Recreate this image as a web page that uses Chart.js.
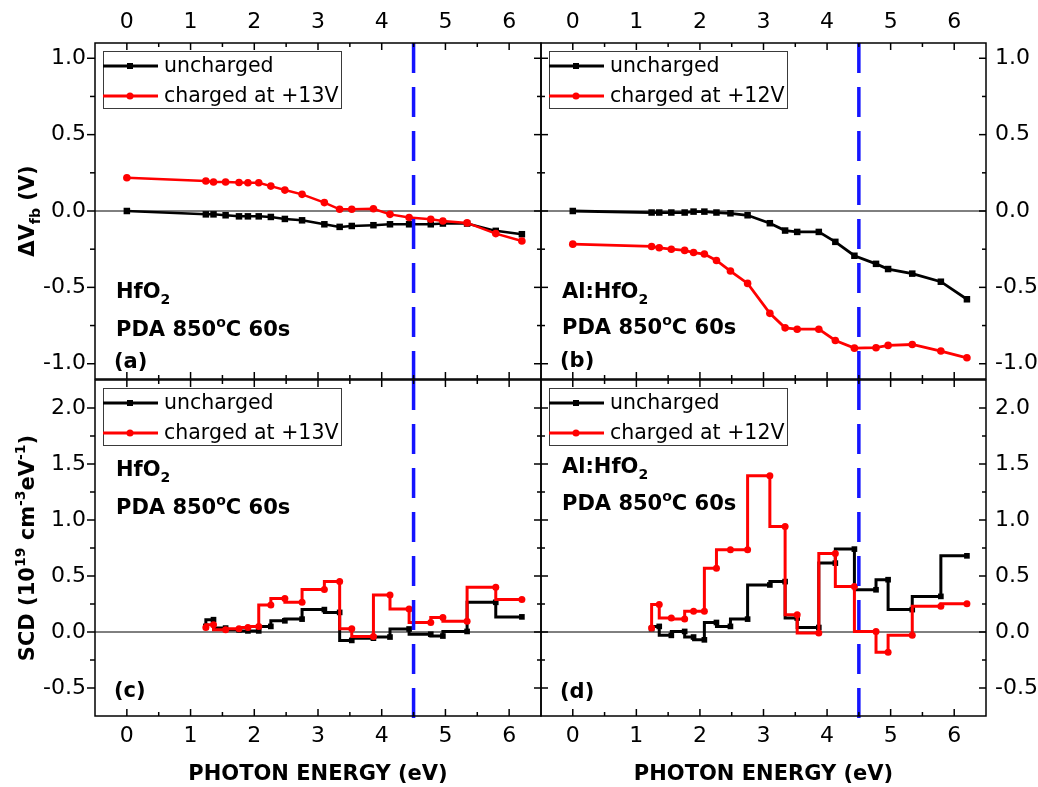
<!DOCTYPE html>
<html>
<head>
<meta charset="utf-8">
<script src="https://cdn.jsdelivr.net/npm/chart.js@4.4.1/dist/chart.umd.min.js"></script>
<style>
html,body{margin:0;padding:0;background:#fff;}
#wrap{position:relative;width:1038px;height:787px;overflow:hidden;background:#fff;}
#wrap canvas{position:absolute;left:0;top:0;}
</style>
</head>
<body>
<div id="wrap">
<canvas id="pa" width="1038" height="787"></canvas>
<canvas id="pb" width="1038" height="787"></canvas>
<canvas id="pc" width="1038" height="787"></canvas>
<canvas id="pd" width="1038" height="787"></canvas>
</div>
<script>
// ---------------- data ----------------
const energy = [0, 1.24, 1.36, 1.55, 1.76, 1.9, 2.07, 2.26, 2.48, 2.75, 3.1, 3.34, 3.53, 3.87, 4.13, 4.43, 4.77, 4.96, 5.34, 5.79, 6.2];
const energySCD = [1.24, 1.36, 1.55, 1.76, 1.9, 2.07, 2.26, 2.48, 2.75, 3.1, 3.34, 3.53, 3.87, 4.13, 4.43, 4.77, 4.96, 5.34, 5.79, 6.2];

const dVfbHfO2Uncharged = [0, -0.022, -0.022, -0.028, -0.035, -0.035, -0.035, -0.039, -0.052, -0.061, -0.087, -0.104, -0.098, -0.093, -0.087, -0.087, -0.087, -0.082, -0.082, -0.13, -0.152];
const dVfbHfO2Charged = [0.218, 0.196, 0.19, 0.19, 0.187, 0.185, 0.185, 0.163, 0.137, 0.109, 0.055, 0.011, 0.011, 0.015, -0.022, -0.043, -0.054, -0.065, -0.078, -0.148, -0.196];
const dVfbAlHfO2Uncharged = [0, -0.01, -0.01, -0.01, -0.01, -0.004, -0.004, -0.01, -0.015, -0.028, -0.08, -0.128, -0.137, -0.137, -0.202, -0.293, -0.346, -0.38, -0.41, -0.463, -0.578];
const dVfbAlHfO2Charged = [-0.217, -0.232, -0.241, -0.25, -0.258, -0.272, -0.282, -0.324, -0.393, -0.474, -0.67, -0.765, -0.774, -0.774, -0.848, -0.898, -0.895, -0.88, -0.874, -0.917, -0.961];

const scdHfO2Uncharged = [0.05, 0.11, 0.035, 0.02, 0.01, 0.01, 0.05, 0.10, 0.115, 0.2, 0.175, -0.075, -0.055, -0.045, 0.027, -0.02, -0.036, 0.005, 0.265, 0.135];
const scdHfO2Charged = [0.04, 0.065, 0.02, 0.03, 0.04, 0.05, 0.24, 0.30, 0.265, 0.38, 0.45, 0.03, -0.04, 0.33, 0.205, 0.085, 0.13, 0.095, 0.40, 0.29];
const scdAlHfO2Uncharged = [0.03, 0.05, -0.03, 0.005, -0.045, -0.07, 0.085, 0.05, 0.115, 0.42, 0.45, 0.125, 0.04, 0.615, 0.74, 0.377, 0.467, 0.2, 0.318, 0.68];
const scdAlHfO2Charged = [0.035, 0.245, 0.125, 0.115, 0.185, 0.185, 0.57, 0.735, 0.735, 1.395, 0.943, 0.155, -0.01, 0.70, 0.407, 0.005, -0.18, -0.03, 0.23, 0.253];

const refEnergy = 4.5;

const xTickLabels = [0, 1, 2, 3, 4, 5, 6];
const xMinorTicks = [0.5, 1.5, 2.5, 3.5, 4.5, 5.5];
const yTicksVfb = [-1.0, -0.5, 0.0, 0.5, 1.0];
const yMinorVfb = [-0.75, -0.25, 0.25, 0.75];
const yTicksSCD = [-0.5, 0.0, 0.5, 1.0, 1.5, 2.0];
const yMinorSCD = [-0.25, 0.25, 0.75, 1.25, 1.75];

const xRange = [-0.5, 6.5];
const yRangeVfb = [-1.1, 1.1];
const yRangeSCD = [-0.75, 2.25];

// ---------------- helpers ----------------
const FAM = "'DejaVu Sans', sans-serif";
const W = 1038, H = 787;

function drawRich(ctx, x, y, parts, size, weight, align) {
  const fontFor = p => `${weight} ${(p.sub || p.sup) ? Math.round(size * 0.66) : size}px ${FAM}`;
  let total = 0;
  parts.forEach(p => { ctx.font = fontFor(p); p.w = ctx.measureText(p.t).width; total += p.w; });
  let cx = align === 'center' ? x - total / 2 : x;
  ctx.textAlign = 'left';
  ctx.textBaseline = 'alphabetic';
  parts.forEach(p => {
    ctx.font = fontFor(p);
    const dy = p.sub ? size * 0.3 : (p.sup ? -size * 0.42 : 0);
    ctx.fillText(p.t, cx, y + dy);
    cx += p.w;
  });
}

function line(ctx, x1, y1, x2, y2) {
  ctx.beginPath(); ctx.moveTo(x1, y1); ctx.lineTo(x2, y2); ctx.stroke();
}

function makePanel(id, spec) {
  const A = spec.area;
  const xPos = spec.row === 'top' ? 'top' : 'bottom';
  const yPos = spec.col === 'left' ? 'left' : 'right';
  const xAxisSize = xPos === 'top' ? A.t : H - A.b;
  const yAxisSize = yPos === 'left' ? A.l : W - A.r;
  const padding = {
    left: yPos === 'left' ? 0 : A.l,
    right: yPos === 'right' ? 0 : W - A.r,
    top: xPos === 'top' ? 0 : A.t,
    bottom: xPos === 'bottom' ? 0 : H - A.b
  };
  const step = spec.stepped ? 'after' : false;

  const deco = {
    id: 'deco' + id,
    beforeDatasetsDraw(chart) {
      const { ctx, chartArea: ca, scales: { y } } = chart;
      ctx.save();
      ctx.strokeStyle = '#000';
      ctx.lineWidth = 1;
      const y0 = y.getPixelForValue(0);
      line(ctx, ca.left, y0, ca.right, y0);
      ctx.restore();
    },
    afterDatasetsDraw(chart) {
      const { ctx, chartArea: ca, scales: { x, y } } = chart;
      ctx.save();
      // reference dashed line
      const xr = x.getPixelForValue(refEnergy);
      ctx.strokeStyle = '#1414ff';
      ctx.lineWidth = 3.5;
      ctx.setLineDash([30, 14]);
      line(ctx, xr, ca.top, xr, ca.bottom + (spec.row === 'bottom' ? 9 : 0));
      ctx.setLineDash([]);

      // frame
      ctx.strokeStyle = '#000';
      ctx.lineWidth = 1.5;
      ctx.strokeRect(ca.left, ca.top, ca.right - ca.left, ca.bottom - ca.top);

      // x ticks (inward, top & bottom)
      xTickLabels.forEach(v => {
        const px = x.getPixelForValue(v);
        line(ctx, px, ca.top, px, ca.top + 7);
        line(ctx, px, ca.bottom, px, ca.bottom - 7);
      });
      xMinorTicks.forEach(v => {
        const px = x.getPixelForValue(v);
        line(ctx, px, ca.top, px, ca.top + 4);
        line(ctx, px, ca.bottom, px, ca.bottom - 4);
      });
      // y ticks
      const drawY = (vals, len, outLen) => vals.forEach(v => {
        const py = y.getPixelForValue(v);
        if (spec.col === 'left') {
          line(ctx, ca.left - outLen, py, ca.left, py);
        } else {
          line(ctx, ca.left, py, ca.left + len, py);
        }
        line(ctx, ca.right - len, py, ca.right, py);
      });
      drawY(spec.yMajor, 7, 8);
      drawY(spec.yMinor, 4, 5);

      // legend
      const bx = ca.left + 8, by = ca.top + 8, bw = 238, bh = 57;
      ctx.strokeStyle = '#3a3a3a';
      ctx.lineWidth = 1;
      ctx.strokeRect(Math.round(bx) + 0.5, Math.round(by) + 0.5, bw, bh);
      const items = [
        { label: 'uncharged', color: '#000', shape: 'rect' },
        { label: spec.redLabel, color: '#ff0000', shape: 'circle' }
      ];
      items.forEach((it, i) => {
        const cy = by + 15 + i * 30;
        ctx.strokeStyle = it.color;
        ctx.fillStyle = it.color;
        ctx.lineWidth = 3;
        line(ctx, bx, cy, bx + 55, cy);
        if (it.shape === 'rect') {
          ctx.fillRect(bx + 27 - 3, cy - 3, 6, 6);
        } else {
          ctx.beginPath(); ctx.arc(bx + 27, cy, 3.5, 0, Math.PI * 2); ctx.fill();
        }
        ctx.fillStyle = '#000';
        ctx.font = `20.5px ${FAM}`;
        ctx.textAlign = 'left';
        ctx.textBaseline = 'middle';
        ctx.fillText(it.label, bx + 61, cy + 1);
      });

      // annotations
      ctx.fillStyle = '#000';
      const ax = ca.left + 21;
      drawRich(ctx, ax, spec.ann[0] + 8, spec.material, 21, 'bold', 'left');
      drawRich(ctx, ax, spec.ann[1] + 8, [{ t: 'PDA 850' }, { t: 'o', sup: true }, { t: 'C 60s' }], 21, 'bold', 'left');
      drawRich(ctx, ca.left + 19, spec.ann[2] + 7, [{ t: spec.letter }], 21, 'bold', 'left');

      // y title
      if (spec.yTitle) {
        ctx.save();
        ctx.translate(26, (ca.top + ca.bottom) / 2);
        ctx.rotate(-Math.PI / 2);
        drawRich(ctx, 0, 7.5, spec.yTitle, 21, 'bold', 'center');
        ctx.restore();
      }
      ctx.restore();
    }
  };

  return new Chart(document.getElementById(id), {
    type: 'line',
    data: {
      datasets: [
        {
          label: 'uncharged',
          data: spec.xs.map((xv, i) => ({ x: xv, y: spec.black[i] })),
          borderColor: '#000', backgroundColor: '#000',
          pointStyle: 'rect', pointRadius: spec.sq, pointBorderWidth: 0,
          borderWidth: spec.lw, stepped: step, tension: 0, order: 1
        },
        {
          label: spec.redLabel,
          data: spec.xs.map((xv, i) => ({ x: xv, y: spec.red[i] })),
          borderColor: '#ff0000', backgroundColor: '#ff0000',
          pointStyle: 'circle', pointRadius: spec.ci, pointBorderWidth: 0,
          borderWidth: spec.lw, stepped: step, tension: 0, order: 0
        }
      ]
    },
    options: {
      responsive: false,
      animation: false,
      devicePixelRatio: 1,
      layout: { padding, autoPadding: false },
      plugins: { legend: { display: false }, tooltip: { enabled: false } },
      scales: {
        x: {
          type: 'linear', position: xPos, min: xRange[0], max: xRange[1],
          afterBuildTicks: s => { s.ticks = xTickLabels.map(v => ({ value: v })); },
          afterFit: s => { s.height = xAxisSize; },
          grid: { display: false, drawTicks: false },
          border: { display: false },
          ticks: {
            font: { family: FAM, size: 22 }, color: '#000',
            padding: xPos === 'top' ? 8 : 7, maxRotation: 0, autoSkip: false,
            callback: v => String(v)
          },
          title: xPos === 'bottom'
            ? { display: true, text: 'PHOTON ENERGY (eV)', color: '#000', font: { family: FAM, size: 21, weight: 'bold' }, padding: { top: 0, bottom: 0 } }
            : { display: false }
        },
        y: {
          type: 'linear', position: yPos, min: spec.yRange[0], max: spec.yRange[1],
          afterBuildTicks: s => { s.ticks = spec.yMajor.map(v => ({ value: v })); },
          afterFit: s => { s.width = yAxisSize; },
          grid: { display: false, drawTicks: false },
          border: { display: false },
          ticks: {
            font: { family: FAM, size: 22 }, color: '#000', padding: 9,
            callback: v => Number(v).toFixed(1)
          }
        }
      }
    },
    plugins: [deco]
  });
}

const vfbTitle = [{ t: '\u0394V' }, { t: 'fb', sub: true }, { t: ' (V)' }];
const scdTitle = [{ t: 'SCD (10' }, { t: '19', sup: true }, { t: ' cm' }, { t: '-3', sup: true }, { t: 'eV' }, { t: '-1', sup: true }, { t: ')' }];
const hfo2 = [{ t: 'HfO' }, { t: '2', sub: true }];
const alhfo2 = [{ t: 'Al:HfO' }, { t: '2', sub: true }];

makePanel('pa', {
  area: { l: 95, t: 43, r: 541, b: 379 }, row: 'top', col: 'left',
  yRange: yRangeVfb, yMajor: yTicksVfb, yMinor: yMinorVfb,
  xs: energy, black: dVfbHfO2Uncharged, red: dVfbHfO2Charged, stepped: false,
  redLabel: 'charged at +13V', material: hfo2, letter: '(a)', ann: [290, 328, 361],
  yTitle: vfbTitle, lw: 2.5, sq: 4.6, ci: 3.8
});
makePanel('pb', {
  area: { l: 541, t: 43, r: 986, b: 379 }, row: 'top', col: 'right',
  yRange: yRangeVfb, yMajor: yTicksVfb, yMinor: yMinorVfb,
  xs: energy, black: dVfbAlHfO2Uncharged, red: dVfbAlHfO2Charged, stepped: false,
  redLabel: 'charged at +12V', material: alhfo2, letter: '(b)', ann: [290, 326, 360],
  yTitle: null, lw: 2.8, sq: 4.6, ci: 3.8
});
makePanel('pc', {
  area: { l: 95, t: 380, r: 541, b: 716 }, row: 'bottom', col: 'left',
  yRange: yRangeSCD, yMajor: yTicksSCD, yMinor: yMinorSCD,
  xs: energySCD, black: scdHfO2Uncharged, red: scdHfO2Charged, stepped: true,
  redLabel: 'charged at +13V', material: hfo2, letter: '(c)', ann: [468, 506, 690],
  yTitle: scdTitle, lw: 3, sq: 4, ci: 3.5
});
makePanel('pd', {
  area: { l: 541, t: 380, r: 986, b: 716 }, row: 'bottom', col: 'right',
  yRange: yRangeSCD, yMajor: yTicksSCD, yMinor: yMinorSCD,
  xs: energySCD, black: scdAlHfO2Uncharged, red: scdAlHfO2Charged, stepped: true,
  redLabel: 'charged at +12V', material: alhfo2, letter: '(d)', ann: [465, 502, 691],
  yTitle: null, lw: 3, sq: 4, ci: 3.5
});
</script>
</body>
</html>
